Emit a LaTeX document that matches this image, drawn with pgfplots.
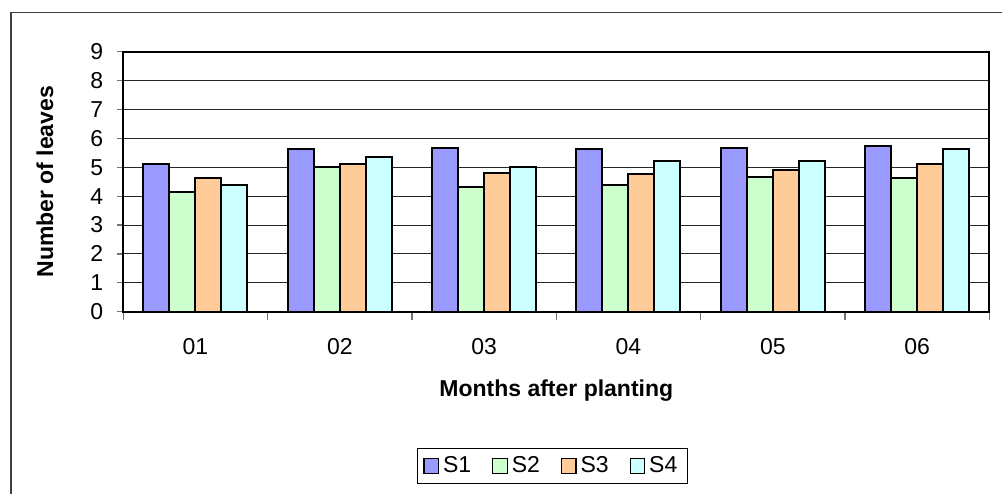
\documentclass[border=0pt]{standalone}
\usepackage{fontspec}
\setmainfont{Liberation Sans}
\usepackage{pgfplots}
\usepackage{pgfplotstable}
\pgfplotsset{compat=1.18}
\definecolor{cS1}{HTML}{9999FF}
\definecolor{cS2}{HTML}{CCFFCC}
\definecolor{cS3}{HTML}{FFCC99}
\definecolor{cS4}{HTML}{CCFFFF}
\pgfplotstableread{
x S1 S2 S3 S4
0 5.12 4.14 4.63 4.37
1 5.63 5.01 5.12 5.35
2 5.67 4.33 4.80 5.01
3 5.63 4.40 4.77 5.22
4 5.67 4.66 4.90 5.22
5 5.75 4.63 5.12 5.63
}\datatable
\begin{document}
\begin{tikzpicture}
\useasboundingbox (0,0) rectangle (501pt,246.5pt);
\draw[black!75, line width=0.8pt] (5.5pt,-10pt) -- (5.5pt,240.25pt) -- (520pt,240.25pt);
\begin{axis}[
  at={(61.65pt,90.65pt)}, anchor=south west,
  scale only axis, width=433pt, height=130pt,
  font=\fontsize{11.5}{13}\selectfont,
  /pgf/number format/assume math mode=true,
  xmin=-0.5, xmax=5.5, ymin=0, ymax=9,
  ytick={0,...,9},
  xtick={0,...,5},
  xticklabels={01,02,03,04,05,06},
  major x tick style={draw=none},
  minor xtick={-0.5,0.5,...,5.5},
  minor x tick style={black!55, line width=0.6pt},
  minor tick length=4pt,
  major tick length=3pt,
  y tick style={black!55, line width=0.6pt},
  tick align=outside,
  tick pos=left,
  ymajorgrids,
  grid style={black!85, line width=0.5pt},
  axis line style={black, line width=0.9pt},
  ybar=0pt, bar width=13pt,
  xticklabel style={anchor=base, yshift=-18.15pt},
  yticklabel style={anchor=east, xshift=-3.5pt},
  xlabel={\bfseries Months after planting},
  xlabel style={at={(axis description cs:0.5,0)}, anchor=base, yshift=-42.6pt},
  ylabel={\bfseries Number of leaves},
  ylabel style={at={(axis description cs:-0.0904,0.5)}, anchor=center},
  legend columns=4,
  legend style={at={(0.4955,-0.5935)}, anchor=center, draw=black, line width=0.6pt,
    font=\fontsize{11.5}{13}\selectfont,
    /tikz/every even column/.append style={column sep=8.5pt},
    inner xsep=3pt, inner ysep=2pt},
  legend image code/.code={\draw[#1, line width=0.6pt] (0pt,-3.6pt) rectangle (7.2pt,3.6pt);},
]
\addplot[draw=black, line width=1pt, fill=cS1] table[x=x,y=S1]{\datatable};
\addplot[draw=black, line width=1pt, fill=cS2] table[x=x,y=S2]{\datatable};
\addplot[draw=black, line width=1pt, fill=cS3] table[x=x,y=S3]{\datatable};
\addplot[draw=black, line width=1pt, fill=cS4] table[x=x,y=S4]{\datatable};
\legend{S1,S2,S3,S4}
\end{axis}
\end{tikzpicture}
\end{document}
